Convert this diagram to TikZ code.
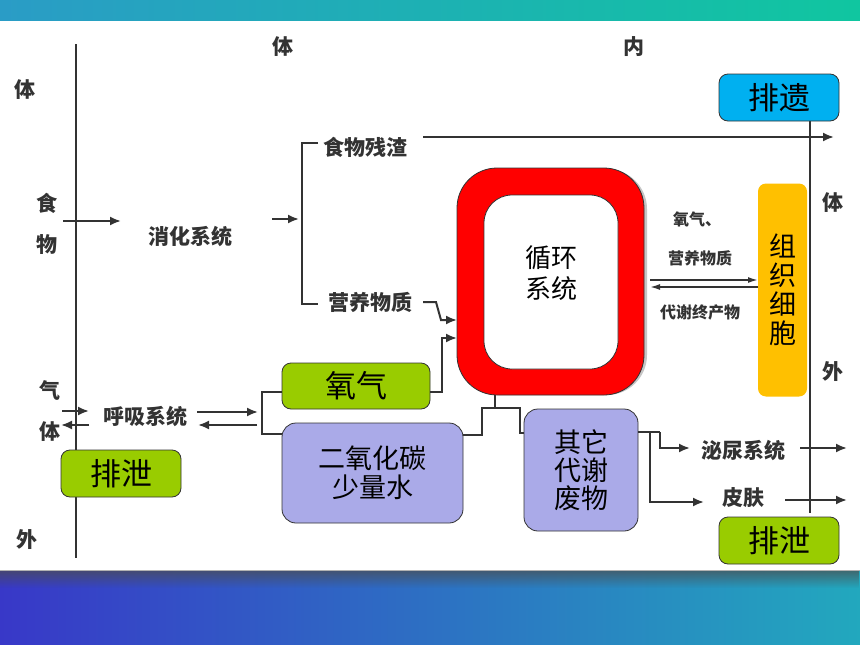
\documentclass[tikz,border=0pt]{standalone}
\usepackage{fontspec}
\setmainfont{Noto Sans CJK SC}
\usetikzlibrary{arrows.meta,fadings}
\definecolor{topL}{HTML}{2A9CC6}
\definecolor{topR}{HTML}{10C6A0}
\definecolor{botL}{HTML}{3838C8}
\definecolor{botM}{HTML}{2E6CC6}
\definecolor{botR}{HTML}{22A8BE}
\definecolor{grn}{HTML}{99CC00}
\definecolor{cyn}{HTML}{00B0F0}
\definecolor{lav}{HTML}{AAAAE8}
\definecolor{org}{HTML}{FFC000}
\definecolor{scan}{HTML}{333333}
\tikzset{
  fs/.style={font=\fontsize{#1}{#1}\selectfont},
  scantext/.style={text=scan, inner sep=0pt, font=\fontsize{21}{21}\selectfont\bfseries},
  smalltext/.style={text=scan, inner sep=0pt, font=\fontsize{16}{16}\selectfont\bfseries},
  sideletter/.style={text=scan, inner sep=0pt, font=\fontsize{21}{21}\selectfont\bfseries},
  wire/.style={draw=scan, line width=2pt},
  arrowwire/.style={wire, -{Latex[length=11pt,width=9pt]}},
  box/.style={draw=black!80, line width=0.8pt, rounded corners=9pt, inner sep=0pt, text=black, align=center},
}
\begin{document}
\begin{tikzpicture}[x=1pt,y=1pt]
\useasboundingbox (0,0) rectangle (860,-645);
\fill[white] (0,0) rectangle (860,-645);
% bands
\shade[left color=topL, right color=topR] (0,0) rectangle (860,-20);
\shade[left color=botL, middle color=botM, right color=botR] (0,-570) rectangle (860,-645);
\fill[black!70, opacity=0.7, path fading=south] (0,-570) rectangle (860,-588);
\draw[gray!60, line width=1pt] (0,-570) -- (860,-570);

% coordinates
\coordinate (Ltop) at (76,-44);
\coordinate (Lbot) at (76,-558);
\coordinate (Rtop) at (810,-121);
\coordinate (Rbot) at (810,-513);
\draw[wire] (Ltop) -- (Lbot);
\draw[wire] (Rtop) -- (Rbot);

% scanned texts
\node[sideletter] (ti1) at (25,-90) {体};
\node[sideletter] (shi) at (47,-203) {食};
\node[sideletter] (wu) at (47,-245) {物};
\node[sideletter] (ti2) at (283,-47) {体};
\node[sideletter] (nei) at (634,-47) {内};
\node[sideletter] (qi) at (50,-390) {气};
\node[sideletter] (ti3) at (50,-432) {体};
\node[sideletter] (wai1) at (27,-540) {外};
\node[sideletter] (ti4) at (833,-203) {体};
\node[sideletter] (wai2) at (833,-372) {外};
\node[scantext] (xh) at (190,-236) {消化系统};
\node[scantext] (cz) at (365,-147) {食物残渣};
\node[scantext] (yy) at (370,-302) {营养物质};
\node[scantext] (hx) at (145,-416) {呼吸系统};
\node[scantext] (mn) at (743,-450) {泌尿系统};
\node[scantext] (pf) at (743,-498) {皮肤};
\node[smalltext] (s1) at (697,-219) {氧气、};
\node[smalltext] (s2) at (700,-258) {营养物质};
\node[smalltext] (s3) at (700,-312) {代谢终产物};

% food
\coordinate (f1) at (63,-221); \coordinate (f2) at (121,-221);
\draw[arrowwire] (f1) -- (f2);
\coordinate (d1) at (272,-219); \coordinate (d2) at (299,-219);
\draw[arrowwire] (d1) -- (d2);
\coordinate (b1) at (318,-143); \coordinate (b2) at (302,-143);
\coordinate (b3) at (302,-304); \coordinate (b4) at (318,-304);
\draw[wire] (b1) -- (b2) -- (b3) -- (b4);
\coordinate (r1) at (423,-137); \coordinate (r2) at (834,-137);
\draw[arrowwire] (r1) -- (r2);

% red circulation box
\fill[gray!45, rounded corners=40pt] (459,-169) rectangle (647,-395);
\node[box, fill=red, rounded corners=40pt, minimum width=187pt, minimum height=227pt] (xhs) at (550.5,-281.5) {};
\node[box, fill=white, rounded corners=28pt, minimum width=134pt, minimum height=174pt] (xhi) at (551,-282) {};
\node[inner sep=0pt, align=center, fs=26] (xht) at (551,-273) {循环\\[5pt]系统};

% nutrients into circulation
\coordinate (n1) at (423,-302); \coordinate (n2) at (436,-302);
\coordinate (n3) at (441,-320); \coordinate (n4) at (457,-320);
\draw[arrowwire] (n1) -- (n2) -- (n3) -- (n4);

% boxes
\node[box, fill=cyn, minimum width=120pt, minimum height=47pt, fs=31] (py) at (779,-97.5) {排遗};
\node[box, fill=grn, minimum width=120pt, minimum height=47pt, fs=31] (px1) at (121,-473.5) {排泄};
\node[box, fill=grn, minimum width=120pt, minimum height=47pt, fs=31] (px2) at (779,-540.5) {排泄};
\node[box, fill=grn, minimum width=148pt, minimum height=46pt, fs=31] (yq) at (356,-386) {氧气};
\node[box, fill=lav, rounded corners=14pt, minimum width=181pt, minimum height=100pt, fs=27] (co2) at (372.5,-473) {二氧化碳\\[2pt]少量水};
\node[box, fill=lav, rounded corners=14pt, minimum width=114pt, minimum height=122pt, fs=27] (qt) at (581,-470) {其它\\[1pt]代谢\\[1pt]废物};
\node[draw=none, fill=org, rounded corners=8pt, inner sep=0pt, minimum width=49pt, minimum height=213pt, align=center, fs=27] (zz) at (782.5,-290) {组\\[2pt]织\\[2pt]细\\[2pt]胞};

% oxygen into circulation
\coordinate (o1) at (442,-392); \coordinate (o2) at (442,-338); \coordinate (o3) at (457,-338);
\draw[arrowwire] (yq.east |- o1) -- (o1) -- (o2) -- (o3);

% respiratory
\coordinate (h1) at (197,-412); \coordinate (h2) at (258,-412);
\coordinate (h3) at (257,-425); \coordinate (h4) at (198,-425);
\draw[arrowwire] (h1) -- (h2);
\draw[arrowwire] (h3) -- (h4);
\coordinate (k1) at (262,-392); \coordinate (k2) at (262,-434);
\draw[wire] (yq.west |- k1) -- (k1) -- (k2) -- (co2.west |- k2);
\coordinate (g1) at (62,-411); \coordinate (g2) at (89,-411);
\coordinate (g3) at (89,-425); \coordinate (g4) at (61,-425);
\draw[arrowwire] (g1) -- (g2);
\draw[arrowwire] (g3) -- (g4);

% circulation bottom
\coordinate (c1) at (495,-408);
\coordinate (c2) at (482,-408); \coordinate (c3) at (520,-408);
\coordinate (c4) at (482,-435); \coordinate (c5) at (520,-433);
\draw[wire] (xhs.south -| c1) -- (c1);
\draw[wire] (co2.east |- c4) -- (c4) -- (c2) -- (c3) -- (c5) -- (qt.west |- c5);

% tissue exchange
\coordinate (t1) at (650,-280); \coordinate (t2) at (758,-280);
\coordinate (t3) at (758,-287); \coordinate (t4) at (650,-287);
\draw[wire, line width=1.6pt, -{Latex[length=10pt,width=6pt]}] (t1) -- (t2);
\draw[wire, line width=1.6pt, -{Latex[length=10pt,width=6pt]}] (t3) -- (t4);

% other wastes
\coordinate (w1) at (660,-432); \coordinate (w2) at (650,-432);
\coordinate (w3) at (650,-502); \coordinate (w4) at (704,-502);
\coordinate (w5) at (660,-448); \coordinate (w6) at (690,-448);
\draw[wire] (qt.east |- w1) -- (w1);
\draw[arrowwire] (w2) -- (w3) -- (w4);
\draw[arrowwire] (w1) -- (w5) -- (w6);
\coordinate (e1) at (800,-448); \coordinate (e2) at (847,-448);
\coordinate (e3) at (785,-500); \coordinate (e4) at (847,-500);
\draw[arrowwire] (e1) -- (e2);
\draw[arrowwire] (e3) -- (e4);
\end{tikzpicture}
\end{document}
